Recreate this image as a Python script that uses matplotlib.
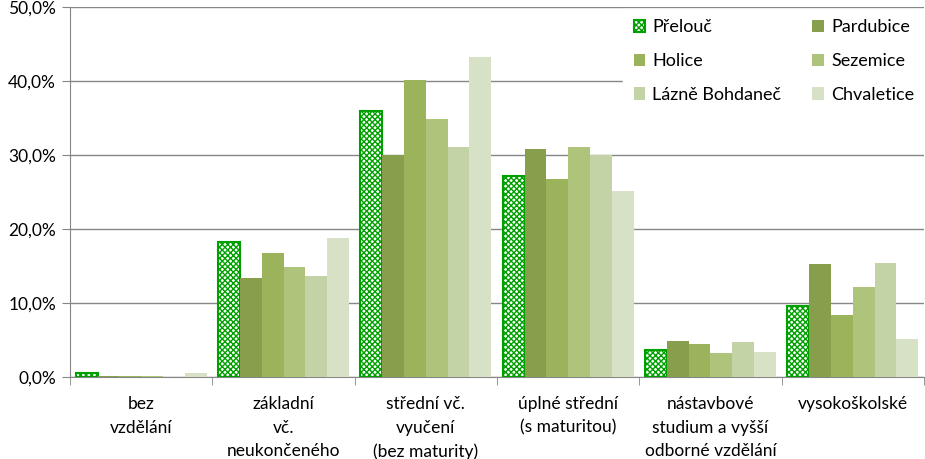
import numpy as np
import matplotlib.pyplot as plt
from matplotlib.ticker import FuncFormatter, FixedLocator

plt.rcParams['font.family'] = ['Lato', 'DejaVu Sans']
plt.rcParams['hatch.linewidth'] = 1.0

categories = ['bez\nvzdělání', 'základní\nvč.\nneukončeného', 'střední vč.\nvyučení\n(bez maturity)',
              'úplné střední\n(s maturitou)', 'nástavbové\nstudium a vyšší\nodborné vzdělání', 'vysokoškolské']
towns = ['Přelouč', 'Pardubice', 'Holice', 'Sezemice', 'Lázně Bohdaneč', 'Chvaletice']
prelouc = [0.5, 18.3, 35.9, 27.2, 3.6, 9.6]
pardubice = [0.15, 13.4, 30.0, 30.8, 4.9, 15.3]
holice = [0.15, 16.8, 40.1, 26.7, 4.5, 8.4]
sezemice = [0.15, 14.9, 34.9, 31.1, 3.2, 12.2]
lazne = [0.0, 13.7, 31.1, 30.0, 4.7, 15.4]
chvaletice = [0.5, 18.8, 43.3, 25.1, 3.4, 5.1]
series = [prelouc, pardubice, holice, sezemice, lazne, chvaletice]
colors = ['white', '#879f4d', '#9bb35a', '#adc47a', '#c3d3a6', '#d7e1c5']

fig = plt.figure(figsize=(9.25, 4.59), dpi=100)
ax = fig.add_axes([70/925, 1-377/459, 854/925, 370/459])

x = np.arange(len(categories))
w = 0.92 / 6
handles = []
for i, (name, vals) in enumerate(zip(towns, series)):
    pos = x - 0.46 + w * (i + 0.5)
    if i == 0:
        b = ax.bar(pos, vals, w, color='white', edgecolor='#00a000', hatch='xxxxxx',
                   linewidth=1.5, label=name, zorder=3)
    else:
        b = ax.bar(pos, vals, w, color=colors[i], linewidth=0, label=name, zorder=3)
    handles.append(b)

ax.set_xlim(-0.5, 5.5)
ax.set_ylim(0, 50)
ax.set_yticks(np.arange(0, 51, 10))
ax.yaxis.set_major_formatter(FuncFormatter(lambda v, p: ('%.1f' % v).replace('.', ',') + '%'))
ax.set_xticks(x)
ax.set_xticklabels(categories, fontsize=12.5, linespacing=1.55, va='top')
ax.xaxis.set_minor_locator(FixedLocator(np.arange(-0.5, 6, 1)))
ax.tick_params(axis='x', which='major', length=0, pad=14)
ax.tick_params(axis='x', which='minor', length=6, color='#868686', direction='out')
ax.tick_params(axis='y', length=6, color='#868686', labelsize=12.5, pad=4)
ax.yaxis.grid(True, color='#868686', linewidth=1, zorder=0)
ax.set_axisbelow(True)
for s in ['top', 'right']:
    ax.spines[s].set_visible(False)
for s in ['left', 'bottom']:
    ax.spines[s].set_color('#868686')

order = [0, 2, 4, 1, 3, 5]
leg = ax.legend([handles[i] for i in order], [towns[i] for i in order], ncol=2,
                loc='upper right', bbox_to_anchor=(1.012, 1.02), frameon=True, framealpha=1,
                edgecolor='white', fancybox=False, fontsize=13, handlelength=0.65,
                handleheight=0.65, handletextpad=0.4, columnspacing=1.7, labelspacing=0.98,
                borderpad=0.6)
leg.set_zorder(5)

fig.savefig('out.png', dpi=100)
